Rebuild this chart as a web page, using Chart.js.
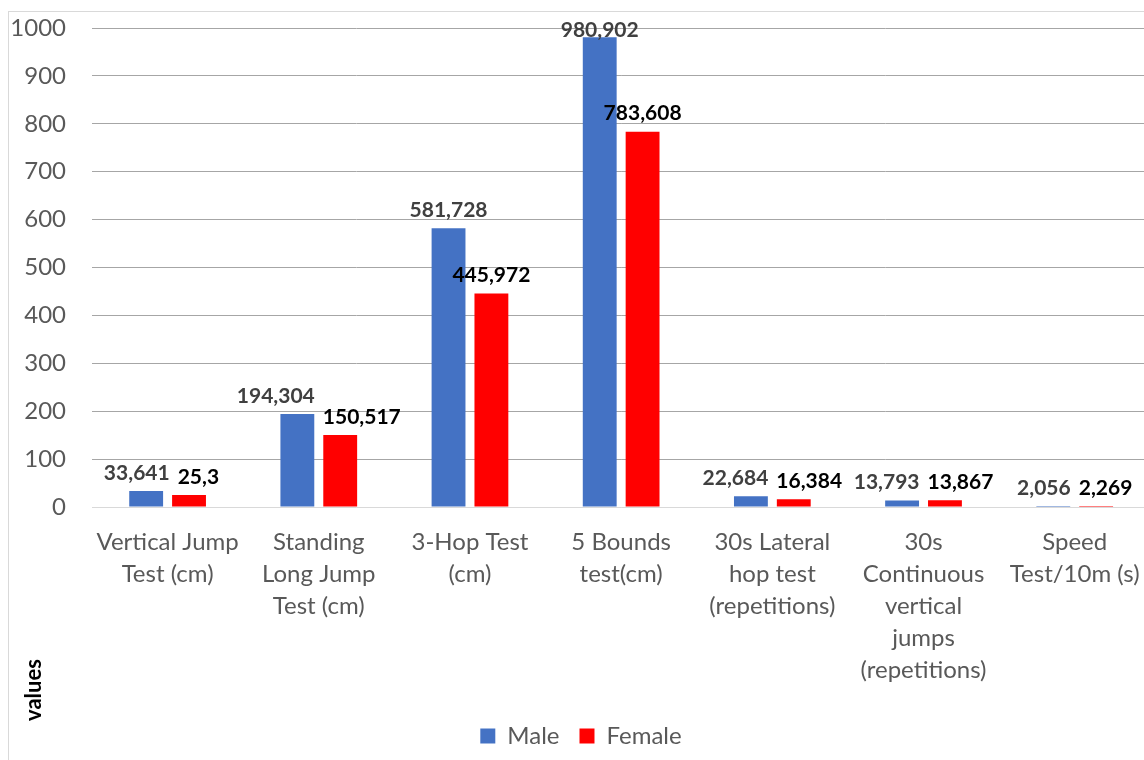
<!DOCTYPE html>
<html>
<head>
<meta charset="utf-8">
<script src="https://cdn.jsdelivr.net/npm/chart.js@4"></script>
<style>
  html, body { margin: 0; padding: 0; background: #fff; overflow: hidden; width: 1144px; height: 760px; }
  #frame { position: absolute; left: 8px; top: 11px; border-left: 1px solid #d9d9d9; border-top: 1px solid #d9d9d9; width: 1150px; height: 748px; }
  #c { display: block; }
</style>
</head>
<body>
<div id="frame"><canvas id="c" width="1150" height="748"></canvas></div>
<script>
const categories = [
  ["Vertical Jump", "Test (cm)"],
  ["Standing", "Long Jump", "Test (cm)"],
  ["3-Hop Test", "(cm)"],
  ["5 Bounds", "test(cm)"],
  ["30s Lateral", "hop test", "(repetitions)"],
  ["30s", "Continuous", "vertical", "jumps", "(repetitions)"],
  ["Speed", "Test/10m (s)"]
];
const maleValues = [33.641, 194.304, 581.728, 980.902, 22.684, 13.793, 2.056];
const femaleValues = [25.3, 150.517, 445.972, 783.608, 16.384, 13.867, 2.269];
const seriesNames = ["Male", "Female"];
const yTicks = [0, 100, 200, 300, 400, 500, 600, 700, 800, 900, 1000];
const yTitle = "values";

const FONT = "Lato, 'Noto Sans', sans-serif";
const labelColors = ["#404040", "#000000"];

function fmt(v) { return String(v).replace('.', ','); }

const dataLabelPlugin = {
  id: 'dataLabels',
  afterDatasetsDraw(chart) {
    const ctx = chart.ctx;
    ctx.save();
    ctx.font = "bold 21px " + FONT;
    ctx.textAlign = 'center';
    ctx.textBaseline = 'middle';
    const n = chart.data.labels.length;
    const metas = [chart.getDatasetMeta(0), chart.getDatasetMeta(1)];
    for (let i = 0; i < n; i++) {
      const items = metas.map((m, d) => {
        const el = m.data[i];
        const txt = fmt(chart.data.datasets[d].data[i]);
        const w = ctx.measureText(txt).width;
        let y = el.y - 18;
        if (y < 18) y = 18;
        return { x: el.x, y, w, txt, d };
      });
      const a = items[0], b = items[1];
      if (Math.abs(a.y - b.y) < 26) {
        const overlap = (a.x + a.w / 2) - (b.x - b.w / 2) + 8;
        if (overlap > 0) { a.x -= overlap / 2; b.x += overlap / 2; }
      }
      items.forEach(it => {
        ctx.fillStyle = labelColors[it.d];
        ctx.fillText(it.txt, it.x, it.y);
      });
    }
    ctx.save();
    ctx.translate(25, 678);
    ctx.rotate(-Math.PI / 2);
    ctx.font = "bold 22px " + FONT;
    ctx.fillStyle = "#000";
    ctx.textAlign = 'center';
    ctx.textBaseline = 'middle';
    ctx.fillText(yTitle, 0, 0);
    ctx.restore();
    ctx.restore();
  }
};

new Chart(document.getElementById('c'), {
  type: 'bar',
  data: {
    labels: categories,
    datasets: [
      { label: seriesNames[0], data: maleValues, backgroundColor: '#4472C4', barPercentage: 0.79, categoryPercentage: 0.567 },
      { label: seriesNames[1], data: femaleValues, backgroundColor: '#FF0000', barPercentage: 0.79, categoryPercentage: 0.567 }
    ]
  },
  options: {
    responsive: false,
    animation: false,
    layout: { padding: { left: 0, right: 6, top: 16, bottom: 2 } },
    plugins: {
      legend: {
        position: 'bottom',
        labels: { boxWidth: 15, boxHeight: 15, padding: 20, color: '#595959', font: { family: FONT, size: 24 } }
      },
      tooltip: { enabled: false }
    },
    scales: {
      x: {
        grid: { display: false, drawTicks: false },
        border: { display: false },
        ticks: { color: '#595959', font: { family: FONT, size: 24, lineHeight: 1.333 }, padding: 19, maxRotation: 0, autoSkip: false },
        afterFit(scale) { scale.height = 197; }
      },
      y: {
        min: 0, max: 1000,
        afterBuildTicks(scale) { scale.ticks = yTicks.map(v => ({ value: v })); },
        grid: {
          drawTicks: false,
          color: ctx => (ctx.tick && ctx.tick.value === 0) ? '#d9d9d9' : '#a6a6a6',
          lineWidth: 1
        },
        border: { display: false },
        ticks: { color: '#595959', font: { family: FONT, size: 24 }, padding: 26, callback: v => String(v) },
        afterFit(scale) { scale.width = 83; scale.paddingTop = 14; scale.paddingBottom = 14; }
      }
    }
  },
  plugins: [dataLabelPlugin]
});
</script>
</body>
</html>
